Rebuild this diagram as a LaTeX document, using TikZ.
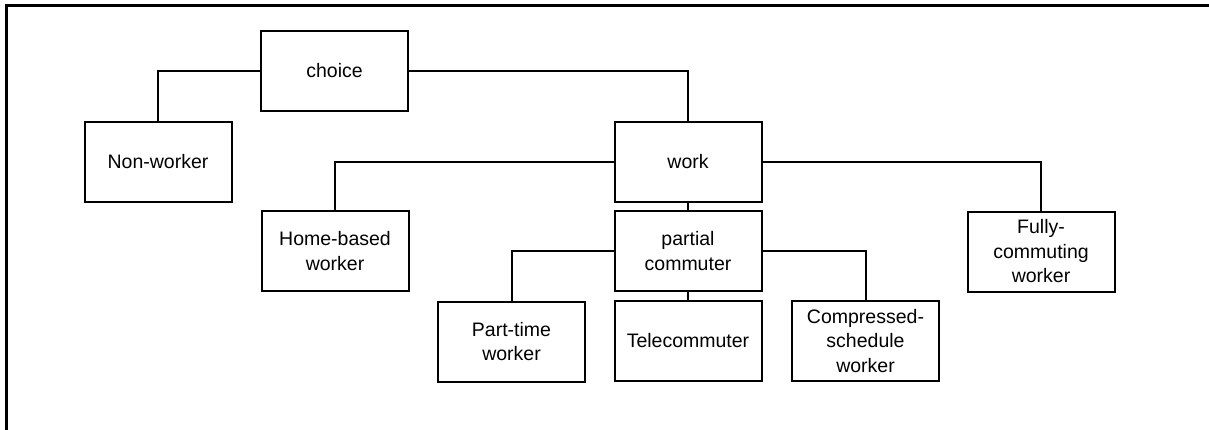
\documentclass[tikz,border=0pt]{standalone}
\usepackage{fontspec}
\setmainfont{Liberation Sans}
\begin{document}
\begin{tikzpicture}[x=1pt,y=-1pt,
  box/.style={draw,line width=2pt,rectangle,minimum width=147pt,minimum height=80pt,
    inner sep=0pt,align=center,font=\fontsize{19.5}{24.5}\selectfont},
  conn/.style={line width=2pt}]
\useasboundingbox (0,0) rectangle (1209,429);
\draw[line width=3pt] (6,440) -- (6,5) -- (1220,5);
\node[box] (choice) at (334.5,71) {choice};
\node[box] (nonworker) at (158,161.5) {Non-worker};
\node[box] (work) at (688,161.5) {work};
\node[box] (home) at (335,251) {Home-based\\worker};
\node[box] (partial) at (688,251) {partial\\commuter};
\node[box] (fully) at (1041,251.5) {Fully-\\commuting\\worker};
\node[box] (parttime) at (511.5,341.5) {Part-time\\worker};
\node[box] (tele) at (688,341) {Telecommuter};
\node[box] (compressed) at (865.5,341) {Compressed-\\schedule\\worker};
\draw[conn] (choice.west) -| (nonworker.north);
\draw[conn] (choice.east) -| (work.north);
\draw[conn] (work.west) -| (home.north);
\draw[conn] (work.east) -| (fully.north);
\draw[conn] (work.south) -- (partial.north);
\draw[conn] (partial.west) -| (parttime.north);
\draw[conn] (partial.south) -- (tele.north);
\draw[conn] (partial.east) -| (compressed.north);
\end{tikzpicture}
\end{document}
